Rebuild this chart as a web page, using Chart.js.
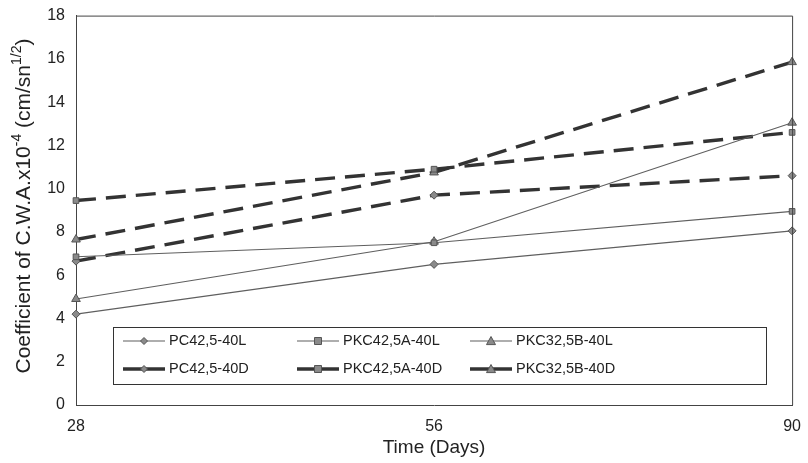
<!DOCTYPE html>
<html>
<head>
<meta charset="utf-8">
<script src="https://cdn.jsdelivr.net/npm/chart.js@4/dist/chart.umd.min.js"></script>
<style>
  html,body{margin:0;padding:0;background:#fff;}
  #wrap{width:808px;height:463px;position:relative;}
</style>
</head>
<body>
<div id="wrap"><canvas id="cwaChart" width="808" height="463"></canvas></div>
<script>
// data
const days = ["28", "56", "90"];
const seriesNames = ["PC42,5-40L", "PKC42,5A-40L", "PKC32,5B-40L", "PC42,5-40D", "PKC42,5A-40D", "PKC32,5B-40D"];
const pc425_40L   = [4.2, 6.5, 8.05];
const pkc425A_40L = [6.85, 7.5, 8.95];
const pkc325B_40L = [4.9, 7.55, 13.05];
const pc425_40D   = [6.65, 9.7, 10.6];
const pkc425A_40D = [9.45, 10.9, 12.6];
const pkc325B_40D = [7.65, 10.75, 15.85];
const yTicks = [0, 2, 4, 6, 8, 10, 12, 14, 16, 18];

const FONT = "'Liberation Sans', Arial, sans-serif";

function makeSet(label, data, marker, dashed){
  return {
    label: label,
    data: data,
    borderColor: dashed ? "#333" : "#5f5f5f",
    borderWidth: dashed ? 3.4 : 1.1,
    borderDash: dashed ? [20, 10] : [],
    pointStyle: marker,
    pointRadius: marker === "triangle" ? 5 : 4,
    pointBackgroundColor: "#8a8a8a",
    pointBorderColor: "#555",
    pointBorderWidth: 1,
    fill: false,
    tension: 0
  };
}

// frame on top and right of plot area
const framePlugin = {
  id: "frame",
  afterDraw(chart){
    const a = chart.chartArea, ctx = chart.ctx;
    ctx.save();
    ctx.strokeStyle = "#444";
    ctx.lineWidth = 1;
    ctx.beginPath();
    ctx.moveTo(a.left, a.top + 0.5);
    ctx.lineTo(a.right + 0.5, a.top + 0.5);
    ctx.lineTo(a.right + 0.5, a.bottom);
    ctx.stroke();
    ctx.restore();
  }
};

// y title with superscripts
const yTitlePlugin = {
  id: "yTitle",
  afterDraw(chart){
    const ctx = chart.ctx;
    const parts = [
      ["Coefficient of C.W.A.x10", false],
      ["-4", true],
      [" (cm/sn", false],
      ["1/2", true],
      [")", false]
    ];
    const big = "21px " + FONT, small = "14px " + FONT;
    ctx.save();
    let total = 0;
    parts.forEach(p => { ctx.font = p[1] ? small : big; total += ctx.measureText(p[0]).width; });
    ctx.translate(22, 206);
    ctx.rotate(-Math.PI / 2);
    ctx.fillStyle = "#222";
    ctx.textBaseline = "alphabetic";
    let x = -total / 2;
    parts.forEach(p => {
      ctx.font = p[1] ? small : big;
      ctx.fillText(p[0], x, p[1] ? -1 : 8);
      x += ctx.measureText(p[0]).width;
    });
    ctx.restore();
  }
};

function drawMarker(ctx, style, x, y, r){
  if (style === "rect"){
    ctx.rect(x - r, y - r, 2 * r, 2 * r);
  } else if (style === "triangle"){
    ctx.moveTo(x, y - r);
    ctx.lineTo(x + r, y + r * 0.8);
    ctx.lineTo(x - r, y + r * 0.8);
    ctx.closePath();
  } else {
    ctx.moveTo(x, y - r);
    ctx.lineTo(x + r, y);
    ctx.lineTo(x, y + r);
    ctx.lineTo(x - r, y);
    ctx.closePath();
  }
}

// boxed legend inside the plot
const legendPlugin = {
  id: "boxLegend",
  afterDraw(chart){
    const ctx = chart.ctx;
    const box = {x: 113.5, y: 327.5, w: 653, h: 57};
    const colX = [123, 297, 470];
    const rowY = [341, 369];
    ctx.save();
    ctx.fillStyle = "#fff";
    ctx.fillRect(box.x, box.y, box.w, box.h);
    ctx.strokeStyle = "#333";
    ctx.lineWidth = 1;
    ctx.strokeRect(box.x, box.y, box.w, box.h);
    chart.data.datasets.forEach((ds, i) => {
      const cx = colX[i % 3], cy = rowY[Math.floor(i / 3)];
      ctx.strokeStyle = ds.borderColor;
      ctx.lineWidth = ds.borderWidth;
      ctx.beginPath();
      ctx.moveTo(cx, cy);
      ctx.lineTo(cx + 42, cy);
      ctx.stroke();
      ctx.fillStyle = ds.pointBackgroundColor;
      ctx.strokeStyle = ds.pointBorderColor;
      ctx.lineWidth = 1;
      ctx.beginPath();
      drawMarker(ctx, ds.pointStyle, cx + 21, cy, ds.pointRadius - 0.5);
      ctx.fill();
      ctx.stroke();
      ctx.fillStyle = "#222";
      ctx.font = "14.5px " + FONT;
      ctx.textBaseline = "middle";
      ctx.fillText(ds.label, cx + 46, cy);
    });
    ctx.restore();
  }
};

const chart = new Chart(document.getElementById("cwaChart").getContext("2d"), {
  type: "line",
  data: {
    labels: days,
    datasets: [
      makeSet(seriesNames[0], pc425_40L, "rectRot", false),
      makeSet(seriesNames[1], pkc425A_40L, "rect", false),
      makeSet(seriesNames[2], pkc325B_40L, "triangle", false),
      makeSet(seriesNames[3], pc425_40D, "rectRot", true),
      makeSet(seriesNames[4], pkc425A_40D, "rect", true),
      makeSet(seriesNames[5], pkc325B_40D, "triangle", true)
    ]
  },
  options: {
    responsive: false,
    animation: false,
    layout: {padding: {top: 14, right: 11, left: 0, bottom: 0}},
    plugins: {
      legend: {display: false},
      tooltip: {enabled: false}
    },
    scales: {
      x: {
        offset: false,
        grid: {display: false, drawTicks: true, tickLength: 5, tickColor: "#444"},
        border: {display: true, color: "#444", width: 1},
        ticks: {color: "#222", font: {family: FONT, size: 16}, padding: 7, maxRotation: 0},
        title: {display: true, text: "Time (Days)", color: "#222", font: {family: FONT, size: 19}, padding: {top: 0, bottom: 4}},
        afterFit: s => { s.height = 58; }
      },
      y: {
        min: 0,
        max: 18,
        afterBuildTicks: s => { s.ticks = yTicks.map(v => ({value: v})); },
        grid: {display: false, drawTicks: true, tickLength: 5, tickColor: "#444"},
        border: {display: true, color: "#444", width: 1},
        ticks: {color: "#222", font: {family: FONT, size: 16}, padding: 6},
        afterFit: s => { s.width = 76; }
      }
    }
  },
  plugins: [framePlugin, yTitlePlugin, legendPlugin]
});
</script>
</body>
</html>
